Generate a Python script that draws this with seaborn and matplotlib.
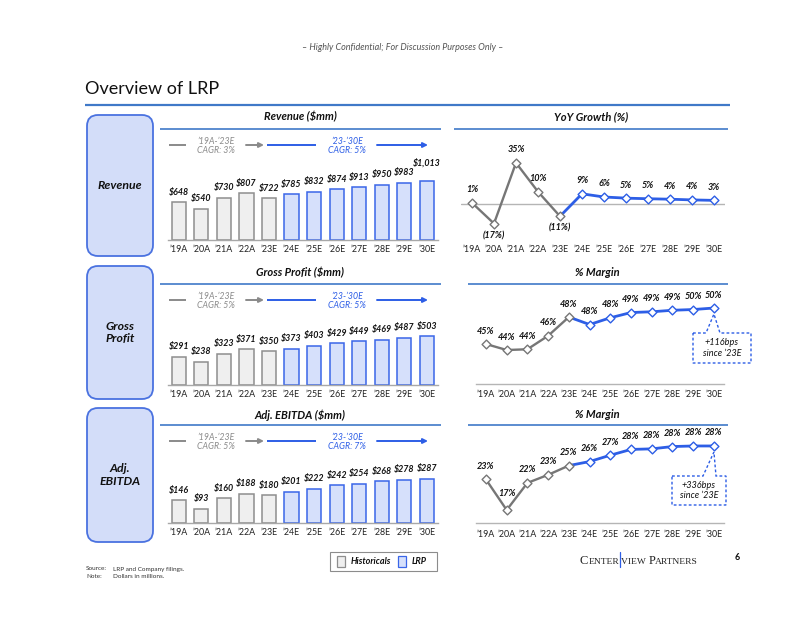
import matplotlib
matplotlib.use("Agg")
import matplotlib.pyplot as plt
import seaborn as sns
import numpy as np
import pandas as pd
from matplotlib.patches import FancyBboxPatch, Rectangle, Polygon
from matplotlib.lines import Line2D
from matplotlib.offsetbox import TextArea, HPacker, AnnotationBbox, DrawingArea

# ---------------- data ----------------
years = ["’19A", "’20A", "’21A", "’22A", "’23E", "’24E", "’25E", "’26E", "’27E", "’28E", "’29E", "’30E"]
periods = ["Historicals", "Historicals", "Historicals", "Historicals", "Historicals",
           "LRP", "LRP", "LRP", "LRP", "LRP", "LRP", "LRP"]

revenue = [648, 540, 730, 807, 722, 785, 832, 874, 913, 950, 983, 1013]
revenue_labels = ["$648", "$540", "$730", "$807", "$722", "$785", "$832", "$874", "$913", "$950", "$983", "$1,013"]
gross_profit = [291, 238, 323, 371, 350, 373, 403, 429, 449, 469, 487, 503]
gross_profit_labels = ["$291", "$238", "$323", "$371", "$350", "$373", "$403", "$429", "$449", "$469", "$487", "$503"]
ebitda = [146, 93, 160, 188, 180, 201, 222, 242, 254, 268, 278, 287]
ebitda_labels = ["$146", "$93", "$160", "$188", "$180", "$201", "$222", "$242", "$254", "$268", "$278", "$287"]

yoy_growth = [1.0, -16.7, 35.2, 10.5, -10.5, 8.7, 6.0, 5.0, 4.5, 4.1, 3.5, 3.1]
yoy_labels = ["1%", "(17%)", "35%", "10%", "(11%)", "9%", "6%", "5%", "5%", "4%", "4%", "3%"]
gross_margin = [44.9, 44.1, 44.2, 46.0, 48.5, 47.5, 48.4, 49.1, 49.2, 49.4, 49.5, 49.7]
gross_margin_labels = ["45%", "44%", "44%", "46%", "48%", "48%", "48%", "49%", "49%", "49%", "50%", "50%"]
ebitda_margin = [22.5, 17.2, 21.9, 23.3, 24.9, 25.6, 26.7, 27.7, 27.8, 28.2, 28.3, 28.3]
ebitda_margin_labels = ["23%", "17%", "22%", "23%", "25%", "26%", "27%", "28%", "28%", "28%", "28%", "28%"]

cagr_hist = ["’19A-’23E\nCAGR: 3%", "’19A-’23E\nCAGR: 5%", "’19A-’23E\nCAGR: 5%"]
cagr_lrp = ["’23-’30E\nCAGR: 5%", "’23-’30E\nCAGR: 5%", "’23-’30E\nCAGR: 7%"]

# ---------------- style ----------------
sns.set_theme(style="white")
plt.rcParams["font.family"] = ["Lato", "DejaVu Sans"]

GRAY_LINE = "#767676"
GRAY_TXT = "#8a8a8a"
BLUE = "#2d5ee6"
BLUE_RULE = "#4079c8"
HIST_FILL = "#efefef"
HIST_EDGE = "#8e8e8e"
LRP_FILL = "#d6e0fb"
LRP_EDGE = "#3a66e8"
BOX_FILL = "#d3ddf9"
BOX_EDGE = "#4a72e0"
TXT = "#111111"

W, H = 800, 618
fig = plt.figure(figsize=(8, 6.18), dpi=100)
fig.patch.set_facecolor("white")


def pax(l, t, r, b):
    return fig.add_axes([l / W, 1 - b / H, (r - l) / W, (b - t) / H])


ov = fig.add_axes([0, 0, 1, 1], zorder=5)
ov.set_xlim(0, W)
ov.set_ylim(H, 0)
ov.axis("off")
ov.patch.set_alpha(0)

# header / title
ov.text(403, 47, "– Highly Confidential; For Discussion Purposes Only –", ha="center", va="center",
        fontsize=6.5, fontstyle="italic", color="#555555")
ov.text(85, 89, "Overview of LRP", ha="left", va="center", fontsize=13, color="#111111")
ov.plot([85, 730], [105, 105], color=BLUE_RULE, lw=1.6, solid_capstyle="butt")

# rows configuration
rows = [
    dict(box="Revenue", box_t=115, box_b=256, bar_title="Revenue ($mm)", line_title="YoY Growth (%)",
         title_y=117, rule_y=129, cagr_y=145, vals=revenue, labels=revenue_labels, base=240, scale=0.058),
    dict(box="Gross\nProfit", box_t=266, box_b=399, bar_title="Gross Profit ($mm)", line_title="% Margin",
         title_y=273, rule_y=284, cagr_y=300, vals=gross_profit, labels=gross_profit_labels, base=385, scale=0.097),
    dict(box="Adj.\nEBITDA", box_t=408, box_b=542, bar_title="Adj. EBITDA ($mm)", line_title="% Margin",
         title_y=415, rule_y=425, cagr_y=441, vals=ebitda, labels=ebitda_labels, base=523, scale=0.155),
]

pal = {"Historicals": HIST_FILL, "LRP": LRP_FILL}

for k, r in enumerate(rows):
    # left box
    ov.add_patch(FancyBboxPatch((87, r["box_t"]), 66, r["box_b"] - r["box_t"],
                                boxstyle="round,pad=0,rounding_size=11", fc=BOX_FILL, ec=BOX_EDGE, lw=1.3))
    ov.text(120, (r["box_t"] + r["box_b"]) / 2, r["box"], ha="center", va="center", fontsize=8.8,
            fontweight="bold", fontstyle="italic", color=TXT, linespacing=1.2)
    # bar chart title & rule
    ov.text(300, r["title_y"], r["bar_title"], ha="center", va="center", fontsize=8,
            fontweight="bold", fontstyle="italic", color=TXT)
    ov.plot([160, 441], [r["rule_y"]] * 2, color=BLUE_RULE, lw=1.2, solid_capstyle="butt")
    # line chart title & rule
    lx0 = 454 if k == 0 else 468
    lcx = 591 if k == 0 else 597
    ov.text(lcx, r["title_y"], r["line_title"], ha="center", va="center", fontsize=8,
            fontweight="bold", fontstyle="italic", color=TXT)
    ov.plot([lx0, 728], [r["rule_y"]] * 2, color=BLUE_RULE, lw=1.2, solid_capstyle="butt")
    # CAGR row
    cy = r["cagr_y"]
    ov.plot([169, 186], [cy, cy], color=GRAY_TXT, lw=1.4, solid_capstyle="butt")
    ov.text(216, cy + 1, cagr_hist[k], ha="center", va="center", fontsize=6.3, fontstyle="italic",
            color=GRAY_TXT, linespacing=1.1)
    ov.annotate("", xy=(264, cy), xytext=(246, cy),
                arrowprops=dict(arrowstyle="-|>", color=GRAY_TXT, lw=1.4, mutation_scale=7, shrinkA=0, shrinkB=0))
    ov.plot([267, 316], [cy, cy], color=BLUE, lw=1.4, solid_capstyle="butt")
    ov.text(347, cy + 1, cagr_lrp[k], ha="center", va="center", fontsize=6.3, fontstyle="italic",
            color=BLUE, linespacing=1.1)
    ov.annotate("", xy=(428, cy), xytext=(377, cy),
                arrowprops=dict(arrowstyle="-|>", color=BLUE, lw=1.4, mutation_scale=7, shrinkA=0, shrinkB=0))

    # bar chart
    hgt = 70 if k == 0 else 60
    ax = pax(167.5, r["base"] - hgt, 438.2, r["base"])
    df = pd.DataFrame({"year": years, "value": r["vals"], "period": periods})
    sns.barplot(data=df, x="year", y="value", hue="period", palette=pal, dodge=False, width=0.63,
                order=years, legend=False, ax=ax, saturation=1)
    for p in ax.patches:
        cx = p.get_x() + p.get_width() / 2
        i = int(round(cx))
        if 0 <= i < 12 and p.get_height() > 0:
            p.set_edgecolor(HIST_EDGE if periods[i] == "Historicals" else LRP_EDGE)
            p.set_linewidth(1.1)
    ax.set_xlim(-0.5, 11.5)
    ax.set_ylim(0, hgt / r["scale"])
    for i, (v, lbl) in enumerate(zip(r["vals"], r["labels"])):
        off = 10 + (8 if v >= 1000 else 0)
        ax.annotate(lbl, (i, v), xytext=(0, off * 0.72), textcoords="offset points", ha="center", va="center",
                    fontsize=6.4, fontweight="bold", fontstyle="italic", color=TXT, annotation_clip=False)
    ax.set_xlabel("")
    ax.set_ylabel("")
    ax.set_yticks([])
    ax.set_xticks(range(12))
    ax.set_xticklabels(years, fontsize=6.4, color="#222222")
    ax.tick_params(axis="x", length=0, pad=3.7)
    for s in ["top", "left", "right"]:
        ax.spines[s].set_visible(False)
    ax.spines["bottom"].set_color("#a8a8a8")
    ax.spines["bottom"].set_linewidth(1.0)
    ax.patch.set_alpha(0)

# ---------------- line charts ----------------
line_specs = [
    dict(vals=yoy_growth, labels=yoy_labels, box=(461, 150, 725, 240), ylim=(-(240 - 204) / 1.17, (204 - 150) / 1.17),
         zero=True, pad=3.7, callout=None),
    dict(vals=gross_margin, labels=gross_margin_labels, box=(475.6, 300, 724.3, 384),
         ylim=(39.57, 39.57 + 84 / 7.5), zero=False, pad=4.5,
         callout=dict(l=693, t=333, r=751, b=363, b1=706, b2=720, text="+116bps\nsince ’23E", tx=722)),
    dict(vals=ebitda_margin, labels=ebitda_margin_labels, box=(475.6, 430, 724.3, 523),
         ylim=(14.95, 14.95 + 93 / 5.77), zero=False, pad=4.9,
         callout=dict(l=672, t=476, r=726, b=505, b1=703, b2=716, text="+336bps\nsince ’23E", tx=699)),
]

for spec in line_specs:
    ax = pax(*spec["box"])
    vals = spec["vals"]
    idx = list(range(12))
    hist_df = pd.DataFrame({"x": idx[:5], "y": vals[:5]})
    lrp_df = pd.DataFrame({"x": idx[4:], "y": vals[4:]})
    if spec["zero"]:
        ax.axhline(0, color="#b5b5b5", lw=1.0, zorder=1)
    sns.lineplot(data=hist_df, x="x", y="y", color=GRAY_LINE, lw=1.7, ax=ax, zorder=2)
    sns.lineplot(data=lrp_df, x="x", y="y", color=BLUE, lw=2.0, ax=ax, zorder=2)
    sns.scatterplot(x=idx[:5], y=vals[:5], marker="D", s=20, facecolor="white", edgecolor=GRAY_LINE,
                    linewidth=1.0, ax=ax, zorder=3)
    sns.scatterplot(x=idx[5:], y=vals[5:], marker="D", s=20, facecolor="white", edgecolor=BLUE,
                    linewidth=1.0, ax=ax, zorder=3)
    for i, (v, lbl) in enumerate(zip(vals, spec["labels"])):
        if v < 0:
            off = -12
        else:
            off = 13
            if 0 < i < 11 and v < vals[i - 1] and v < vals[i + 1] and vals[i - 1] - v > 3:
                off = 17
        ax.annotate(lbl, (i, v), xytext=(0, off * 0.72), textcoords="offset points", ha="center", va="center",
                    fontsize=6.6, fontweight="bold", fontstyle="italic", color=TXT, annotation_clip=False)
    ax.set_xlim(-0.5, 11.5)
    ax.set_ylim(*spec["ylim"])
    ax.set_xlabel("")
    ax.set_ylabel("")
    ax.set_yticks([])
    ax.set_xticks(idx)
    ax.set_xticklabels(years, fontsize=6.4, color="#222222")
    ax.tick_params(axis="x", length=0, pad=spec["pad"])
    for s in ["top", "left", "right"]:
        ax.spines[s].set_visible(False)
    if spec["zero"]:
        ax.spines["bottom"].set_visible(False)
    else:
        ax.spines["bottom"].set_color("#b5b5b5")
        ax.spines["bottom"].set_linewidth(1.0)
    ax.patch.set_alpha(0)

    c = spec["callout"]
    if c:
        disp = ax.transData.transform((11, vals[-1]))
        tx, ty = ov.transData.inverted().transform(disp)
        tip = (tx, ty + 6)
        poly = Polygon([(c["l"], c["t"]), (c["b1"], c["t"]), tip, (c["b2"], c["t"]), (c["r"], c["t"]),
                        (c["r"], c["b"]), (c["l"], c["b"])], closed=True, fc="white", ec=BLUE, lw=1.0,
                       linestyle=(0, (2, 1.6)), zorder=4)
        ov.add_patch(poly)
        ov.text(c["tx"], (c["t"] + c["b"]) / 2, c["text"], ha="center", va="center", fontsize=6.6,
                fontstyle="italic", color=TXT, linespacing=1.2, zorder=5)

# ---------------- footer ----------------
ov.text(86, 569, "Source:", fontsize=4.6, color="#333333", va="center")
ov.text(113, 569, "LRP and Company filings.", fontsize=4.6, color="#333333", va="center")
ov.text(86, 577, "Note:", fontsize=4.6, color="#333333", va="center")
ov.text(113, 577, "Dollars in millions.", fontsize=4.6, color="#333333", va="center")

# legend
ov.add_patch(Rectangle((330, 552), 107, 19, fc="white", ec="#8c8c8c", lw=0.8))
ov.add_patch(Rectangle((337, 556), 8, 11, fc=HIST_FILL, ec=HIST_EDGE, lw=0.9))
ov.text(351, 561.5, "Historicals", fontsize=6.5, fontweight="bold", fontstyle="italic", color=TXT, va="center")
ov.add_patch(Rectangle((398, 556), 8, 11, fc=LRP_FILL, ec=LRP_EDGE, lw=0.9))
ov.text(412, 561.5, "LRP", fontsize=6.5, fontweight="bold", fontstyle="italic", color=TXT, va="center")

# Centerview logo (small caps)
serif = "Liberation Serif"
big = dict(size=9, family=serif, color="#222222")
small = dict(size=6.8, family=serif, color="#222222")
bar_da = DrawingArea(1.6, 6, 0, 1)
bar_da.add_artist(Line2D([0.8, 0.8], [-2.5, 8.5], color=BLUE, lw=0.9))
logo = HPacker(children=[TextArea("C", textprops=big), TextArea("ENTER", textprops=small), bar_da,
                         TextArea("VIEW ", textprops=small), TextArea("P", textprops=big),
                         TextArea("ARTNERS", textprops=small)],
               align="baseline", pad=0, sep=0)
ov.add_artist(AnnotationBbox(logo, (639, 561), xycoords="data", frameon=False, box_alignment=(0.5, 0.5)))
ov.text(737, 557, "6", fontsize=6.5, fontweight="bold", color=TXT, ha="center", va="center")

fig.savefig("out.png", dpi=100, facecolor="white")
